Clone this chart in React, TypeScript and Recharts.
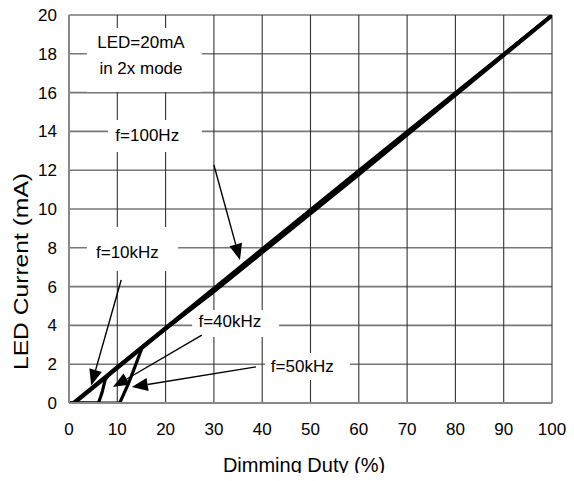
import React from "react";
import {
  LineChart,
  Line,
  XAxis,
  YAxis,
  CartesianGrid,
  ReferenceArea,
  ReferenceLine,
  ReferenceDot,
} from "recharts";

// ---- data ----
const xTicks = [0, 10, 20, 30, 40, 50, 60, 70, 80, 90, 100];
const yTicks = [0, 2, 4, 6, 8, 10, 12, 14, 16, 18, 20];

const f100Hz = [
  { x: 0, y: 0 },
  { x: 0.8, y: 0 },
  { x: 30, y: 5.92 },
  { x: 60, y: 11.98 },
  { x: 100, y: 20 },
];
const f10kHz = [
  { x: 0, y: 0 },
  { x: 1.2, y: 0 },
  { x: 30, y: 5.84 },
  { x: 60, y: 11.88 },
  { x: 100, y: 20 },
];
const f40kHz = [
  { x: 0, y: 0 },
  { x: 6.1, y: 0 },
  { x: 6.8, y: 0.5 },
  { x: 7.5, y: 1.2 },
  { x: 8.5, y: 1.55 },
  { x: 15, y: 2.85 },
  { x: 30, y: 5.78 },
  { x: 60, y: 11.82 },
  { x: 100, y: 20 },
];
const f50kHz = [
  { x: 0, y: 0 },
  { x: 10.5, y: 0 },
  { x: 12.3, y: 1.0 },
  { x: 13.7, y: 1.9 },
  { x: 15.2, y: 2.9 },
  { x: 30, y: 5.74 },
  { x: 60, y: 11.76 },
  { x: 100, y: 19.95 },
];

const series = [f100Hz, f10kHz, f40kHz, f50kHz];

// annotation texts (data coords of text centre)
const labels = [
  { text: "LED=20mA", x: 14.9, y: 18.56 },
  { text: "in 2x mode", x: 14.9, y: 17.22 },
  { text: "f=100Hz", x: 16.2, y: 13.81 },
  { text: "f=10kHz", x: 12.1, y: 7.78 },
  { text: "f=40kHz", x: 33.3, y: 4.19 },
  { text: "f=50kHz", x: 48.3, y: 1.87 },
];

// white boxes behind annotation texts (data coords)
const boxes = [
  { x1: 3.7, x2: 27.5, y1: 16.03, y2: 19.33 },
  { x1: 8.1, x2: 27.5, y1: 12.94, y2: 14.59 },
  { x1: 3.7, x2: 22.6, y1: 6.8, y2: 9.07 },
  { x1: 25.5, x2: 43.5, y1: 3.4, y2: 4.79 },
  { x1: 40.6, x2: 58.2, y1: 1.19, y2: 2.58 },
];

// arrows: from -> to (data coords)
const arrows = [
  { from: { x: 30.0, y: 12.27 }, to: { x: 35.4, y: 7.37 } },
  { from: { x: 10.8, y: 6.34 }, to: { x: 4.6, y: 0.9 } },
  { from: { x: 27.5, y: 3.5 }, to: { x: 9.1, y: 0.82 } },
  { from: { x: 38.7, y: 1.86 }, to: { x: 13.0, y: 0.82 } },
];

const FONT = "'Liberation Sans', Arial, Helvetica, sans-serif";

const ArrowShape = (props: any) => {
  const { x1, y1, x2, y2 } = props;
  if ([x1, y1, x2, y2].some((v) => typeof v !== "number" || isNaN(v))) return null;
  const dx = x2 - x1;
  const dy = y2 - y1;
  const len = Math.sqrt(dx * dx + dy * dy) || 1;
  const ux = dx / len;
  const uy = dy / len;
  const headL = 16;
  const headW = 6.5;
  const bx = x2 - ux * headL;
  const by = y2 - uy * headL;
  const px = -uy;
  const py = ux;
  const pts = `${x2},${y2} ${bx + px * headW},${by + py * headW} ${bx - px * headW},${by - py * headW}`;
  return (
    <g>
      <line x1={x1} y1={y1} x2={bx} y2={by} stroke="#000" strokeWidth={1.4} />
      <polygon points={pts} fill="#000" />
    </g>
  );
};

const makeTextShape = (text: string) => (props: any) => {
  const { cx, cy } = props;
  return (
    <text
      x={cx}
      y={cy}
      textAnchor="middle"
      dominantBaseline="central"
      fontFamily={FONT}
      fontSize={17}
      fill="#000"
    >
      {text}
    </text>
  );
};

export default function App() {
  return (
    <div style={{ width: 574, height: 481, margin: -8, background: "#fff" }}>
      <LineChart
        width={574}
        height={481}
        margin={{ top: 15, right: 22, bottom: 38, left: 8 }}
      >
        <CartesianGrid
          horizontal={true}
          vertical={false}
          stroke="#777"
          strokeWidth={1.6}
          horizontalValues={yTicks}
        />
        <CartesianGrid
          horizontal={false}
          vertical={true}
          stroke="#333"
          strokeWidth={1.1}
          verticalValues={xTicks}
        />
        <XAxis
          type="number"
          dataKey="x"
          domain={[0, 100]}
          ticks={xTicks}
          interval={0}
          tickLine={false}
          tickMargin={14}
          axisLine={{ stroke: "#888", strokeWidth: 2 }}
          tick={{ fill: "#000", fontSize: 17, fontFamily: FONT }}
          height={40}
          allowDataOverflow
          label={() => (
            <text
              x={304}
              y={465}
              textAnchor="middle"
              dominantBaseline="central"
              fontFamily={FONT}
              fontSize={20}
              fill="#000"
            >
              Dimming Duty (%)
            </text>
          )}
        />
        <YAxis
          type="number"
          dataKey="y"
          domain={[0, 20]}
          ticks={yTicks}
          interval={0}
          tickLine={false}
          tickMargin={6}
          width={61}
          axisLine={{ stroke: "#888", strokeWidth: 2 }}
          tick={{ fill: "#000", fontSize: 17, fontFamily: FONT }}
          allowDataOverflow
          label={() => (
            <text
              x={28}
              y={271.5}
              textAnchor="middle"
              fontFamily={FONT}
              fontSize={21}
              fill="#000"
              textLength={197}
              lengthAdjust="spacingAndGlyphs"
              transform="rotate(-90 28 271.5)"
            >
              LED Current (mA)
            </text>
          )}
        />
        {boxes.map((b, i) => (
          <ReferenceArea
            key={"box" + i}
            x1={b.x1}
            x2={b.x2}
            y1={b.y1}
            y2={b.y2}
            fill="#fff"
            fillOpacity={1}
            stroke="none"
            ifOverflow="visible"
          />
        ))}
        {series.map((s, i) => (
          <Line
            key={"s" + i}
            data={s}
            dataKey="y"
            type="linear"
            stroke="#000"
            strokeWidth={3.2}
            dot={false}
            activeDot={false}
            isAnimationActive={false}
          />
        ))}
        {arrows.map((a, i) => (
          <ReferenceLine
            key={"a" + i}
            segment={[a.from, a.to]}
            ifOverflow="visible"
            shape={ArrowShape}
          />
        ))}
        {labels.map((l, i) => (
          <ReferenceDot
            key={"l" + i}
            x={l.x}
            y={l.y}
            r={1}
            ifOverflow="visible"
            shape={makeTextShape(l.text)}
          />
        ))}
      </LineChart>
    </div>
  );
}
